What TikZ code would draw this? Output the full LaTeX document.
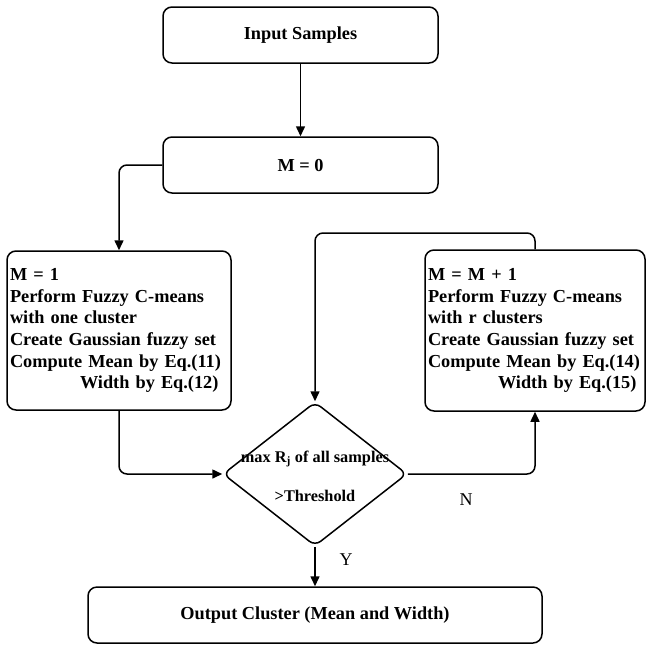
\documentclass[tikz,border=0pt]{standalone}
\usepackage{fontspec}
\setmainfont{Liberation Serif}
\usetikzlibrary{arrows.meta,shapes.geometric}
\begin{document}
\begin{tikzpicture}[x=1pt,y=-1pt,
  every node/.style={font=\fontsize{18.3}{21.7}\selectfont\bfseries},
  box/.style={draw,line width=1.5pt,rounded corners=9pt,inner sep=0pt},
  txtbox/.style={draw,line width=1.5pt,rounded corners=9pt,inner xsep=3pt,inner ysep=0pt,align=left},
  conn/.style={line width=1.5pt,rounded corners=8pt},
  arr/.style={conn,-{Triangle[length=10pt,width=9pt]}},
  lbl/.style={font=\fontsize{18}{20}\selectfont}]
\useasboundingbox (0,0) rectangle (647,646);
\node[box,minimum width=275pt,minimum height=56pt] (in) at (300.5,35) {Input Samples};
\node[box,minimum width=275pt,minimum height=56pt] (m0) at (300.5,165) {M = 0};
\node[txtbox,minimum width=224pt,minimum height=159pt,text width=218pt] (m1) at (119,330.5)
  {M = 1\\Perform Fuzzy C-means\\with one cluster\\Create Gaussian fuzzy set\\Compute Mean by Eq.(11)\\\hspace*{70pt}Width by Eq.(12)};
\node[txtbox,minimum width=220pt,minimum height=161pt,text width=214pt] (mm) at (535,330.5)
  {M = M + 1\\Perform Fuzzy C-means\\with r clusters\\Create Gaussian fuzzy set\\Compute Mean by Eq.(14)\\\hspace*{70pt}Width by Eq.(15)};
\node[draw,line width=1.5pt,diamond,rounded corners=7pt,minimum width=184pt,minimum height=144pt,inner sep=0pt] (d) at (315,474) {};
\node[font=\fontsize{16.3}{18}\selectfont\bfseries] (t1) at (315,459) {max R\textsubscript{j} of all samples};
\node[font=\fontsize{16.3}{18}\selectfont\bfseries] (t2) at (315,496) {>Threshold};
\node[box,minimum width=454pt,minimum height=56pt] (out) at (315,615) {Output Cluster (Mean and Width)};
\coordinate (lp) at (315,233);
\draw[arr] (in) -- (m0);
\draw[arr] (m0.west) -| (m1.north);
\draw[arr] (m1.south) |- (d.west);
\draw[arr] (d.east) -| (mm.south);
\draw[arr] (mm.north) |- (lp) -- (d.north);
\draw[arr] (d.south) -- (out.north);
\node[lbl] (y) at (346,560) {Y};
\node[lbl] (n) at (466,500) {N};
\end{tikzpicture}
\end{document}
